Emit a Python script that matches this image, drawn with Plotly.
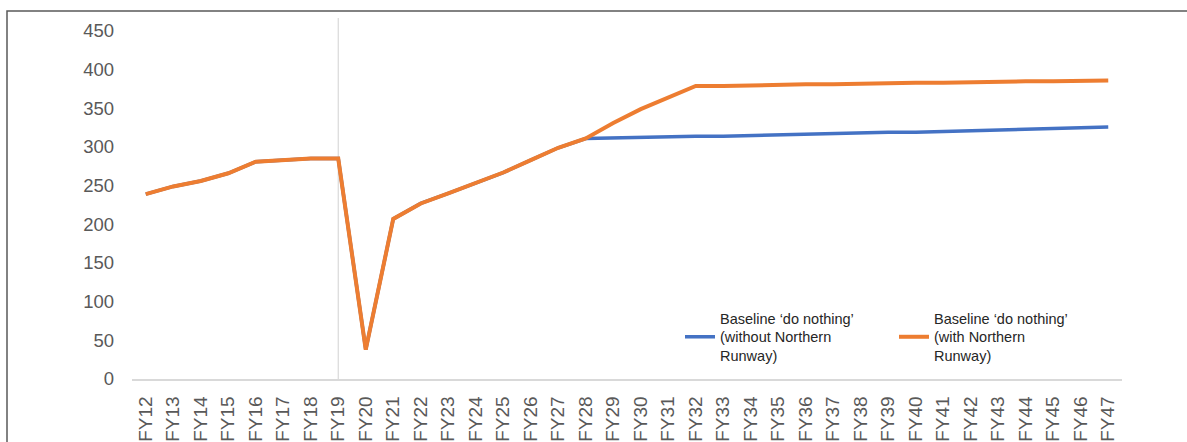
import plotly.graph_objects as go

categories = ["FY%d" % y for y in range(12, 48)]

history = [239, 249, 256, 266, 281, 283, 285, 285, 38, 207, 227, 240, 254,
           267, 283, 299]  # FY12-FY27

without_nr_future = [311, 312, 312, 313, 314, 314, 315, 316, 317, 317, 318,
                     319, 319, 320, 321, 322, 323, 324, 325, 326]  # FY28-FY47
with_nr_future = [311, 331, 349, 364, 379, 379, 380, 380, 381, 381, 382,
                  382, 383, 383, 384, 384, 385, 385, 386, 386]  # FY28-FY47

without_nr = history + without_nr_future
with_nr = history + with_nr_future

y_ticks = [0, 50, 100, 150, 200, 250, 300, 350, 400, 450]
divider_category = "FY19"

W, H = 1187, 442
L, R, T, B = 132, 65, 18, 63
plot_h = H - T - B
plot_w = W - L - R
y_top = 450 * plot_h / (379 - 31)

fig = go.Figure()
fig.add_trace(go.Scatter(
    x=categories, y=without_nr, mode="lines",
    name="Baseline ‘do nothing’<br>(without Northern<br>Runway)",
    line=dict(color="#4472C4", width=3.5),
))
fig.add_trace(go.Scatter(
    x=categories, y=with_nr, mode="lines",
    name="Baseline ‘do nothing’<br>(with Northern<br>Runway)",
    line=dict(color="#ED7D31", width=4),
))

fig.add_shape(type="line", xref="x", yref="paper",
              x0=divider_category, x1=divider_category, y0=0, y1=1,
              line=dict(color="#D9D9D9", width=1.2), layer="below")

# chart frame
fx0 = (7 - L) / plot_w
fx1 = (1210 - L) / plot_w
fy1 = (H - B - 11) / plot_h
fy0 = (H - B - 470) / plot_h
fig.add_shape(type="rect", xref="paper", yref="paper",
              x0=fx0, x1=fx1, y0=fy0, y1=fy1,
              line=dict(color="#595959", width=1.5))

fig.update_layout(
    width=W, height=H,
    margin=dict(l=L, r=R, t=T, b=B, autoexpand=False),
    paper_bgcolor="white", plot_bgcolor="white",
    font=dict(family="Liberation Sans, Arial, sans-serif", color="#595959"),
    showlegend=True,
    legend=dict(
        orientation="h",
        x=(680 - L) / plot_w, xanchor="left",
        y=(379 - 337) / plot_h, yanchor="middle",
        font=dict(size=14.5, color="#262626"),
        entrywidth=169, entrywidthmode="pixels",
        bgcolor="rgba(0,0,0,0)",
        traceorder="normal",
    ),
    xaxis=dict(
        type="category",
        range=[-0.5, len(categories) - 0.5],
        automargin=False,
        showgrid=False, zeroline=False,
        showline=True, linecolor="#D9D9D9", linewidth=1.5,
        tickangle=-90, tickfont=dict(size=19, color="#595959"),
        ticks="", ticklabelstandoff=8,
    ),
    yaxis=dict(
        range=[0, y_top],
        tickvals=y_ticks,
        automargin=False,
        showgrid=False, zeroline=False, showline=False,
        tickfont=dict(size=18.5, color="#595959"),
        ticks="", ticklabelstandoff=17,
    ),
)

fig.write_html("out.html")
